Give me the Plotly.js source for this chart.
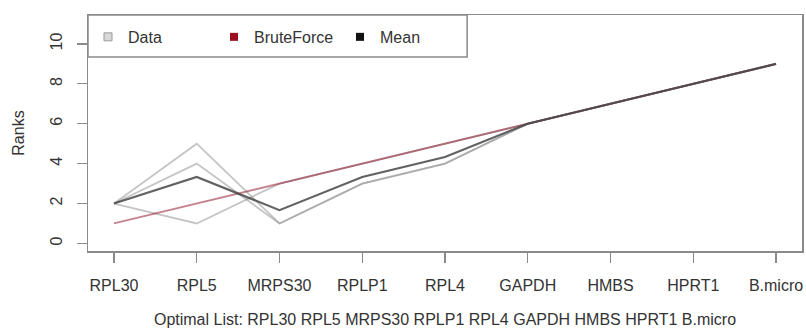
<!DOCTYPE html>
<html>
<head>
<meta charset="utf-8">
<script src="https://cdn.plot.ly/plotly-3.0.1.min.js"></script>
<style>html,body{margin:0;padding:0;background:#fff;}#chart{width:806px;height:331px;}</style>
</head>
<body>
<div id="chart"></div>
<script>
// Genes in the optimal order
var genes = ["RPL30", "RPL5", "MRPS30", "RPLP1", "RPL4", "GAPDH", "HMBS", "HPRT1", "B.micro"];
// Individual rank lists (Data)
var data1 = [2, 5, 1, 3, 4, 6, 7, 8, 9];
var data2 = [2, 4, 1, 3, 4, 6, 7, 8, 9];
var data3 = [2, 1, 3, 4, 5, 6, 7, 8, 9];
// BruteForce ranks
var bruteForce = [1, 2, 3, 4, 5, 6, 7, 8, 9];
// Mean ranks
var meanRanks = [2, 3.333, 1.667, 3.333, 4.333, 6, 7, 8, 9];
var yTicks = [0, 2, 4, 6, 8, 10];
var xTitle = "Optimal List: " + genes.join(" ");

var FONT = "Liberation Sans, Arial, Helvetica, sans-serif";
var TXT = "#333333";
var dataColor = "rgba(150,150,150,0.55)";
var bfColor = "rgba(150,30,50,0.55)";
var meanColor = "rgba(70,70,70,0.85)";

var traces = [];
[data1, data2, data3].forEach(function (d) {
  traces.push({x: genes, y: d, type: "scatter", mode: "lines",
    line: {color: dataColor, width: 1.8}, showlegend: false, hoverinfo: "skip"});
});
traces.push({x: genes, y: bruteForce, type: "scatter", mode: "lines",
  line: {color: bfColor, width: 1.8}, showlegend: false});
traces.push({x: genes, y: meanRanks, type: "scatter", mode: "lines",
  line: {color: meanColor, width: 2.2}, showlegend: false});
// legend entries (filled squares as in the R legend)
traces.push({x: [null], y: [null], type: "scatter", mode: "markers", name: "Data",
  marker: {symbol: "square", size: 8, color: "#d8d8d8", line: {color: "#999", width: 1}}});
traces.push({x: [null], y: [null], type: "scatter", mode: "markers", name: "BruteForce",
  marker: {symbol: "square", size: 8, color: "#9b1020", line: {width: 0}}});
traces.push({x: [null], y: [null], type: "scatter", mode: "markers", name: "Mean",
  marker: {symbol: "square", size: 8, color: "#111111", line: {width: 0}}});

var layout = {
  width: 806, height: 331,
  margin: {l: 88, r: 4, t: 15, b: 80, pad: 0},
  paper_bgcolor: "#fff", plot_bgcolor: "#fff",
  font: {family: FONT, size: 16, color: TXT},
  showlegend: true,
  legend: {orientation: "h", x: 0, xanchor: "left", y: 0.907, yanchor: "middle",
    bgcolor: "rgba(0,0,0,0)", borderwidth: 0, entrywidth: 81,
    font: {family: FONT, size: 16, color: TXT}},
  xaxis: {type: "category", range: [-0.314, 8.314], showgrid: false, zeroline: false,
    showline: true, mirror: true, linecolor: "#8a8a8a", linewidth: 1.5,
    ticks: "outside", ticklen: 10, tickwidth: 1.2, tickcolor: "#8a8a8a",
    tickfont: {family: FONT, size: 16, color: TXT}, ticklabelstandoff: 9,
    title: {text: xTitle, font: {family: FONT, size: 16, color: TXT}, standoff: 21}},
  yaxis: {range: [-0.38, 11.45], showgrid: false, zeroline: false,
    showline: true, mirror: true, linecolor: "#8a8a8a", linewidth: 1.5,
    tickvals: yTicks, ticktext: yTicks.map(String), tickangle: -90,
    ticks: "outside", ticklen: 10, tickwidth: 1.2, tickcolor: "#8a8a8a",
    tickfont: {family: FONT, size: 16, color: TXT}, ticklabelstandoff: 8,
    title: {text: "Ranks", font: {family: FONT, size: 16, color: TXT}, standoff: 19}},
  shapes: [{type: "rect", xref: "paper", yref: "paper", x0: 0, x1: 0.531, y0: 0.822, y1: 1,
    line: {color: "#8a8a8a", width: 1.5}, fillcolor: "rgba(0,0,0,0)"}]
};

Plotly.newPlot("chart", traces, layout, {staticPlot: true, displayModeBar: false});
</script>
</body>
</html>
